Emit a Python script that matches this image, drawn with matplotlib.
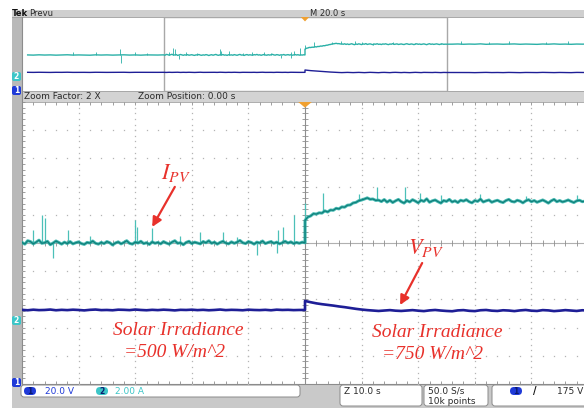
import numpy as np
import matplotlib
matplotlib.use("Agg")
import matplotlib.pyplot as plt
from matplotlib.patches import Rectangle, FancyBboxPatch, Polygon
from matplotlib.collections import LineCollection

plt.rcParams['mathtext.fontset'] = 'stix'

# ---------------- data ----------------
CH1_VOLTS_PER_DIV = 20.0
CH2_AMPS_PER_DIV = 2.0
CH1_GROUND_DIV = -5.0
CH2_GROUND_DIV = -2.75

# main (zoomed) window, 10 s/div
t_before = np.arange(-50, 0.01, 0.5)
t_after = np.arange(0, 50.01, 0.5)
i_before = [
    5.54, 5.42, 5.66, 5.60, 5.44, 5.56, 5.70, 5.48, 5.52, 5.62,
    5.38, 5.50, 5.64, 5.54, 5.42, 5.56, 5.46, 5.60, 5.44, 5.52,
    5.58, 5.46, 5.40, 5.54, 5.50, 5.64, 5.48, 5.42, 5.54, 5.46,
    5.60, 5.52, 5.36, 5.50, 5.58, 5.44, 5.54, 5.66, 5.48, 5.42,
    5.56, 5.50, 5.62, 5.46, 5.52, 5.40, 5.58, 5.48, 5.54, 5.44,
    5.60, 5.50, 5.42, 5.56, 5.66, 5.48, 5.52, 5.38, 5.54, 5.62,
    5.46, 5.56, 5.50, 5.44, 5.60, 5.52, 5.66, 5.48, 5.56, 5.42,
    5.54, 5.62, 5.50, 5.44, 5.58, 5.48, 5.56, 5.68, 5.52, 5.46,
    5.60, 5.54, 5.42, 5.56, 5.50, 5.64, 5.46, 5.54, 5.60, 5.48,
    5.56, 5.44, 5.52, 5.62, 5.50, 5.58, 5.46, 5.54, 5.48, 5.56,
    5.52]
i_after = [
    7.10, 7.34, 7.42, 7.58, 7.55, 7.64, 7.62, 7.78, 7.70, 7.84,
    7.82, 7.96, 7.92, 8.06, 8.04, 8.18, 8.20, 8.34, 8.38, 8.50,
    8.55, 8.62, 8.70, 8.60, 8.62, 8.52, 8.54, 8.44, 8.58, 8.40,
    8.53, 8.37, 8.49, 8.59, 8.43, 8.33, 8.51, 8.41, 8.57, 8.47,
    8.35, 8.53, 8.45, 8.63, 8.39, 8.49, 8.55, 8.43, 8.33, 8.51,
    8.45, 8.59, 8.41, 8.49, 8.37, 8.53, 8.47, 8.57, 8.43, 8.35,
    8.51, 8.45, 8.61, 8.41, 8.49, 8.55, 8.39, 8.47, 8.53, 8.43,
    8.37, 8.51, 8.59, 8.45, 8.41, 8.53, 8.47, 8.35, 8.49, 8.57,
    8.43, 8.51, 8.39, 8.47, 8.55, 8.45, 8.33, 8.49, 8.59, 8.43,
    8.51, 8.41, 8.47, 8.55, 8.45, 8.37, 8.49, 8.53, 8.43, 8.47,
    8.46]
tv_before = np.arange(-50, 0.01, 1.0)
tv_after = np.arange(0, 50.01, 1.0)
v_before = [
    52.6, 52.3, 52.7, 52.4, 52.5, 52.8, 52.3, 52.6, 52.4, 52.7,
    52.5, 52.2, 52.6, 52.8, 52.4, 52.5, 52.3, 52.7, 52.6, 52.4,
    52.8, 52.5, 52.3, 52.6, 52.4, 52.7, 52.5, 52.2, 52.6, 52.5,
    52.7, 52.4, 52.6, 52.3, 52.5, 52.8, 52.4, 52.6, 52.5, 52.3,
    52.7, 52.5, 52.4, 52.6, 52.3, 52.7, 52.5, 52.6, 52.4, 52.5,
    52.5]
v_after = [
    58.9, 58.0, 57.2, 56.6, 56.1, 55.6, 55.0, 54.5, 53.9, 53.3,
    52.8, 52.4, 52.1, 51.8, 52.1, 52.4, 52.0, 51.8, 52.1, 52.4,
    52.0, 51.7, 52.2, 52.5, 52.1, 51.8, 51.6, 52.2, 52.4, 51.9,
    51.7, 52.3, 52.5, 52.0, 51.8, 52.3, 52.1, 51.7, 52.2, 52.5,
    52.0, 51.8, 52.4, 52.2, 51.7, 52.0, 52.4, 52.1, 51.8, 52.3,
    52.1]
spike_t = [-48.1, -46.5, -45.9, -44.5, -41.9, -38.0, -30.0, -29.7, -27.0, -22.0,
           -18.6, -14.5, -12.0, -8.5, -4.9, -4.8, -3.9, -1.9, 0.0, 3.2,
           9.5, 12.7, 17.7, 20.3, 24.0, 31.0, 39.0, 48.0]
spike_a = [6.42, 7.49, 7.27, 4.44, 6.42, 6.00, 7.13, 6.63, 6.56, 6.00,
           6.28, 6.28, 5.95, 4.65, 4.79, 6.42, 6.63, 7.49, 8.34, 9.05,
           9.00, 9.47, 9.47, 9.05, 8.90, 8.95, 8.85, 8.90]

# overview (preview) window, 20 s/div
ov_t_left = np.arange(-98, -51, 2)
ov_t_right = np.arange(52, 101, 2)
ov_i_left = [5.52, 5.47, 5.55, 5.49, 5.53, 5.46, 5.51, 5.56, 5.48, 5.52, 5.50, 5.45,
             5.54, 5.49, 5.53, 5.47, 5.51, 5.55, 5.48, 5.52, 5.46, 5.53, 5.50, 5.49]
ov_v_left = [52.6, 52.4, 52.7, 52.5, 52.3, 52.6, 52.5, 52.8, 52.4, 52.6, 52.5, 52.3,
             52.7, 52.5, 52.4, 52.6, 52.5, 52.7, 52.3, 52.6, 52.5, 52.4, 52.6, 52.5]
ov_i_right = [8.47, 8.52, 8.44, 8.50, 8.46, 8.55, 8.43, 8.49, 8.51, 8.45, 8.48, 8.53,
              8.44, 8.50, 8.47, 8.42, 8.51, 8.46, 8.54, 8.45, 8.49, 8.43, 8.50, 8.47, 8.52]
ov_v_right = [52.1, 51.8, 52.3, 52.0, 51.7, 52.2, 52.4, 51.9, 52.1, 51.8, 52.3, 52.0,
              51.7, 52.2, 52.1, 51.9, 52.4, 52.0, 51.8, 52.2, 52.1, 51.7, 52.3, 52.0, 52.1]
ov_spike_t = [-82.0, -74.0, -65.4, -65.0, -60.0, -56.0, 55.0, 65.0, 72.0, 85.0, 93.0]
ov_spike_a = [6.3, 6.2, 7.14, 3.3, 6.4, 6.1, 9.2, 9.0, 9.3, 9.1, 9.2]

# texts
header_left = "Prevu"
header_mid = "M 20.0 s"
zoom_factor = "Zoom Factor: 2 X"
zoom_pos = "Zoom Position: 0.00 s"
ch1_scale = "20.0 V"
ch2_scale = "2.00 A"
zoom_time = "Z 10.0 s"
rate1 = "50.0 S/s"
rate2 = "10k points"
trig_level = "175 V"
label_i = r'$I_{PV}$'
label_v = r'$V_{PV}$'
irr_title = "Solar Irradiance"
irr_left = "=500 W/m^2"
irr_right = "=750 W/m^2"

# ---------------- figure ----------------
W, H = 584, 408
fig = plt.figure(figsize=(W / 100, H / 100), dpi=100)
fig.patch.set_facecolor('white')

bg = fig.add_axes([0, 0, 1, 1])
bg.set_xlim(0, W)
bg.set_ylim(H, 0)
bg.axis('off')


def px_axes(x0, y0, x1, y1, z=2):
    a = fig.add_axes([x0 / W, 1 - y1 / H, (x1 - x0) / W, (y1 - y0) / H])
    a.axis('off')
    a.set_zorder(z)
    return a


UI_GRAY = '#c9c9c9'
STRIP = '#b9b9b9'
TXT = '#2a2a2a'
BLUE = '#1f3ad8'
CYAN = '#3cc6c8'
RED = '#e8312b'
TRACE_C = '#2ab0a7'
TRACE_C_DARK = '#0f7f7a'
TRACE_B = '#1e1e96'

# left strip and bars
bg.add_patch(Rectangle((12, 10), 10, 375, color=STRIP, lw=0))
bg.add_patch(Rectangle((12, 10), W - 12, 7, color='#cfcfcf', lw=0))
bg.plot([12, W], [17, 17], color='#9a9a9a', lw=0.6)
bg.add_patch(Rectangle((22, 91), W - 22, 11, color='#d3d3d3', lw=0))
bg.plot([22, W], [91, 91], color='#a0a0a0', lw=0.6)
bg.plot([22, W], [102, 102], color='#a0a0a0', lw=0.6)
bg.add_patch(Rectangle((12, 384), W - 12, 24, color=UI_GRAY, lw=0))
bg.plot([22, W], [384, 384], color='#8c8c8c', lw=0.8)
bg.plot([22, 22], [17, 384], color='#8c8c8c', lw=0.8)

bg.text(12, 13.3, "Tek", fontsize=6.0, weight='bold', color='#111', va='center')
bg.text(29, 13.3, header_left, fontsize=6.0, color=TXT, va='center')
bg.text(310, 13.3, header_mid, fontsize=6.0, color=TXT, va='center')
bg.text(24, 96.8, zoom_factor, fontsize=6.5, color=TXT, va='center')
bg.text(138, 96.8, zoom_pos, fontsize=6.5, color=TXT, va='center')


def tab(x, y, color, label, w=9, h=9):
    bg.add_patch(FancyBboxPatch((x, y), w, h, boxstyle="round,pad=0,rounding_size=2",
                                fc=color, ec='none', zorder=5))
    bg.text(x + w / 2, y + h / 2 + 0.3, label, fontsize=5.5, color='white',
            ha='center', va='center', weight='bold', zorder=6)


# channel markers on the left strip
tab(12, 72, CYAN, "2")
tab(12, 86, BLUE, "1")
tab(12, 316, CYAN, "2")
tab(12, 378, BLUE, "1")


# bottom status boxes
def box(x, y, w, h):
    bg.add_patch(FancyBboxPatch((x, y), w, h, boxstyle="round,pad=0,rounding_size=3",
                                fc='white', ec='#8a8a8a', lw=0.7, zorder=3))


box(21, 385, 279, 12)
box(340, 385, 82, 21)
box(424, 385, 64, 21)
box(492, 385, 100, 21)


def pill(x, y, color, label, w=12, h=8):
    bg.add_patch(FancyBboxPatch((x, y), w, h, boxstyle="round,pad=0,rounding_size=4",
                                fc=color, ec='none', zorder=4))
    bg.text(x + w / 2, y + h / 2 + 0.3, label, fontsize=5.5, color='#0b1a70',
            ha='center', va='center', weight='bold', zorder=5)


pill(24, 387, BLUE, "1")
bg.text(45, 391, ch1_scale, fontsize=6.5, color=BLUE, va='center', zorder=5)
pill(96, 387, CYAN, "2")
bg.text(115, 391, ch2_scale, fontsize=6.5, color=CYAN, va='center', zorder=5)
bg.text(344, 391, zoom_time, fontsize=6.5, color=TXT, va='center', zorder=5)
bg.text(428, 391, rate1, fontsize=6.5, color=TXT, va='center', zorder=5)
bg.text(428, 401, rate2, fontsize=6.5, color=TXT, va='center', zorder=5)
pill(510, 387, BLUE, "1")
bg.text(533, 391, "/", fontsize=7, color='#111', va='center', weight='bold', zorder=5)
bg.text(557, 391, trig_level, fontsize=6.5, color=TXT, va='center', zorder=5)


def to_div_i(a):
    return np.asarray(a, dtype=float) / CH2_AMPS_PER_DIV + CH2_GROUND_DIV


def to_div_v(v):
    return np.asarray(v, dtype=float) / CH1_VOLTS_PER_DIV + CH1_GROUND_DIV


# ---------------- overview ----------------
ov = px_axes(22, 17, 588, 91)
ov.set_xlim(-100, 100)
ov.set_ylim(-4.93, 5.205)
ov_t_i = np.concatenate([ov_t_left, t_before, t_after, ov_t_right])
ov_i = np.concatenate([ov_i_left, i_before, i_after, ov_i_right])
ov_t_v = np.concatenate([ov_t_left, tv_before, tv_after, ov_t_right])
ov_v = np.concatenate([ov_v_left, v_before, v_after, ov_v_right])
ov.plot(ov_t_i, to_div_i(ov_i), color=TRACE_C, lw=1.0)
ov.plot(ov_t_v, to_div_v(ov_v), color=TRACE_B, lw=1.0)
all_st = list(ov_spike_t) + list(spike_t)
all_sa = list(ov_spike_a) + list(spike_a)
base = np.interp(all_st, ov_t_i, ov_i)
ov.vlines(all_st, to_div_i(base), to_div_i(all_sa), color=TRACE_C, lw=0.6)
ov.add_patch(Rectangle((-50, -4.93), 100, 10.13, fill=False, ec='#a8a8a8', lw=1.0))
ov.add_patch(Polygon([[-1.5, 5.205], [1.5, 5.205], [0, 4.6]], closed=True,
                     fc='#f0a030', ec='none', clip_on=False))

# ---------------- main (zoom) window ----------------
ax = px_axes(22, 102, 588, 384, z=3)
ax.set_xlim(-50, 50)
ax.set_ylim(-5, 5)

GRID = '#b4b4b4'
for gx in range(-40, 50, 10):
    if gx == 0:
        continue
    yy = np.arange(-5, 5.001, 0.2)
    ax.plot(np.full_like(yy, gx), yy, ls='none', marker='s', ms=0.9, mew=0, color=GRID)
for gy in range(-4, 5):
    if gy == 0:
        continue
    xx = np.arange(-50, 50.001, 2)
    ax.plot(xx, np.full_like(xx, gy), ls='none', marker='s', ms=0.9, mew=0, color=GRID)

ax.plot([0, 0], [-5, 5], color='#8e8e8e', lw=0.8)
ax.plot([-50, 50], [0, 0], color='#b0b0b0', lw=0.8)
segs = []
for yv in np.arange(-5, 5.001, 0.2):
    segs.append([(-0.5, yv), (0.5, yv)])
for xv in np.arange(-50, 50.001, 2):
    segs.append([(xv, -0.1), (xv, 0.1)])
    segs.append([(xv, 5), (xv, 4.88)])
    segs.append([(xv, -5), (xv, -4.88)])
for yv in np.arange(-5, 5.001, 0.2):
    segs.append([(-50, yv), (-49.4, yv)])
ax.add_collection(LineCollection(segs, colors='#8e8e8e', linewidths=0.6))

# traces
t_i = np.concatenate([t_before, t_after])
i_raw = np.concatenate([i_before, i_after])
i_all = to_div_i(i_raw)
base_main = np.interp(spike_t, t_i, i_raw)
base_main[spike_t.index(0.0)] = i_before[-1]
ax.vlines(spike_t, to_div_i(base_main), to_div_i(spike_a), color='#4cc0b8', lw=0.9, zorder=3)
ax.plot(t_i, i_all, color=TRACE_C, lw=2.2, alpha=0.85, zorder=4, solid_joinstyle='round')
ax.plot(t_i, i_all, color=TRACE_C_DARK, lw=0.9, zorder=5)

t_v = np.concatenate([tv_before, tv_after])
v_all = to_div_v(np.concatenate([v_before, v_after]))
ax.plot(t_v, v_all, color=TRACE_B, lw=1.9, zorder=4)

ax.add_patch(Polygon([[-1.2, 5.0], [1.2, 5.0], [0, 4.8]], closed=True,
                     fc='#f0a030', ec='none', clip_on=False, zorder=6))

# annotations
ax.text(-22.8, 2.48, label_i, color=RED, fontsize=16, ha='center', va='center', zorder=7)
ax.annotate('', xy=(-27.0, 0.57), xytext=(-23.0, 1.99),
            arrowprops=dict(arrowstyle='-|>', color=RED, lw=1.6, mutation_scale=14,
                            shrinkA=0, shrinkB=0), zorder=7)
ax.text(21.4, -0.18, label_v, color=RED, fontsize=16, ha='center', va='center', zorder=7)
ax.annotate('', xy=(16.8, -2.2), xytext=(20.7, -0.71),
            arrowprops=dict(arrowstyle='-|>', color=RED, lw=1.6, mutation_scale=14,
                            shrinkA=0, shrinkB=0), zorder=7)
serif = dict(family='Liberation Serif', style='italic', color=RED, fontsize=14,
             ha='center', va='center', zorder=7)
ax.text(-22.4, -3.09, irr_title, **serif)
ax.text(-23.0, -3.87, irr_left, **serif)
ax.text(23.3, -3.19, irr_title, **serif)
ax.text(22.6, -3.97, irr_right, **serif)

fig.savefig('out.png', dpi=100, facecolor='white')
